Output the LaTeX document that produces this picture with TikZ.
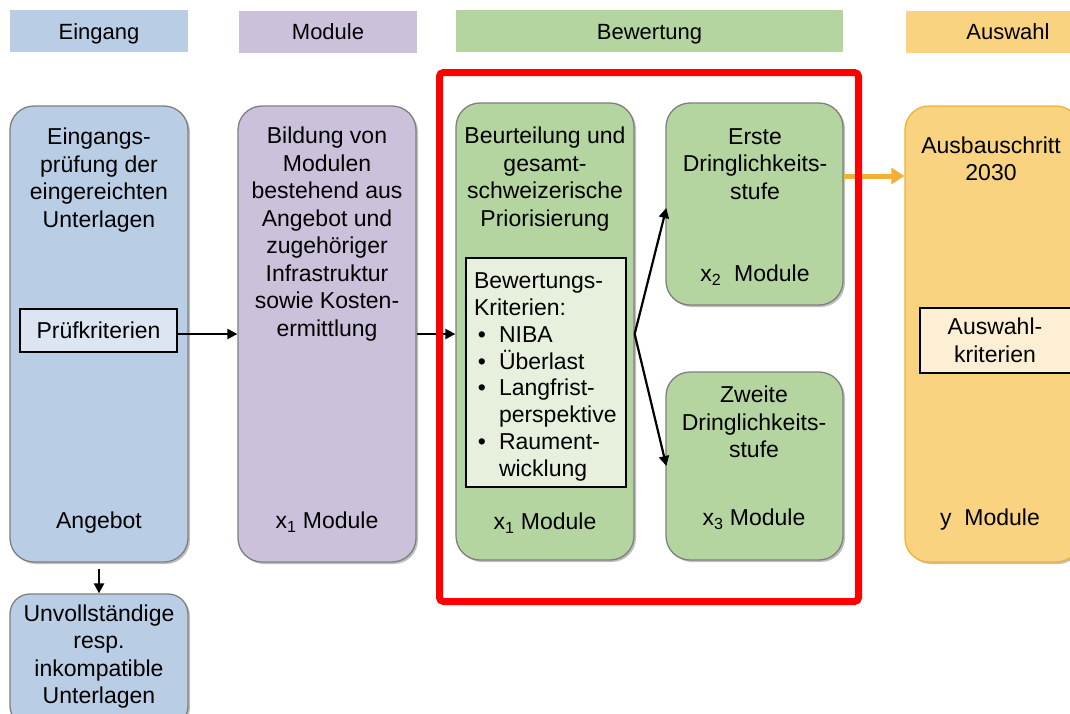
\documentclass[tikz,border=0pt]{standalone}
\usepackage{fontspec}
\setmainfont{Liberation Sans}
\usetikzlibrary{arrows.meta,calc,shadows}
\definecolor{cblue}{HTML}{B9CDE5}
\definecolor{cpurple}{HTML}{CCC1DA}
\definecolor{cgreen}{HTML}{B5D5A0}
\definecolor{corange}{HTML}{F9D37F}
\definecolor{corangeline}{HTML}{F2B134}
\definecolor{boxgray}{HTML}{7F7F7F}
\definecolor{lblue}{HTML}{DCE6F2}
\definecolor{lgreen}{HTML}{E6F0DC}
\definecolor{lorange}{HTML}{FDEFD3}
\begin{document}
\begin{tikzpicture}[x=1pt,y=-1pt,
  hdr/.style={fill=#1, inner sep=0pt, minimum height=42pt, text height=20pt, text depth=4pt, font=\fontsize{22}{26}\selectfont},
  bigbox/.style={draw=boxgray, line width=1.3pt, fill=#1, rounded corners=24pt, inner sep=0pt,
     drop shadow={shadow xshift=2pt, shadow yshift=-2pt, opacity=0.25, fill=black}},
  inbox/.style={draw=black, line width=1.2pt, fill=#1, inner sep=0pt},
  txt/.style={align=center, inner sep=0pt, font=\fontsize{23}{27.5}\selectfont},
  arr/.style={line width=2.2pt, -{Triangle[length=10pt,width=10pt]}},
  oarr/.style={line width=5pt, draw=corangeline, -{Triangle[length=13pt,width=16pt]}},
  redframe/.style={draw=red, line width=7pt, rounded corners=4pt, inner sep=0pt}]
\clip (0,0) rectangle (1070,713);
\fill[white] (0,0) rectangle (1070,713);

% headers
\node[hdr=cblue, minimum width=178pt] (h1) at (99,31) {Eingang};
\node[hdr=cpurple, minimum width=178pt] (h2) at (328,31.5) {Module};
\node[hdr=cgreen, minimum width=387pt] (h3) at (649.5,31) {Bewertung};
\node[hdr=corange, minimum width=204pt] (h4) at (1008,31.5) {Auswahl};

% main boxes
\node[bigbox=cblue, minimum width=178pt, minimum height=456pt] (ein) at (99,334) {};
\node[bigbox=cpurple, minimum width=178pt, minimum height=456pt] (mod) at (327,334) {};
\node[bigbox=cgreen, minimum width=178pt, minimum height=457pt] (beu) at (545,331.5) {};
\node[bigbox=cgreen, minimum width=177pt, minimum height=202pt] (erste) at (754.5,204) {};
\node[bigbox=cgreen, minimum width=177pt, minimum height=188pt] (zweite) at (754.5,466) {};
\node[bigbox=corange, draw=corangeline, minimum width=175pt, minimum height=456pt] (aus) at (992.5,334) {};
\node[bigbox=cblue, rounded corners=20pt, minimum width=178pt, minimum height=132pt] (unv) at (99,660) {};

% inner boxes
\node[inbox=lblue, minimum width=157pt, minimum height=43pt, font=\fontsize{23}{27.5}\selectfont] (pk) at (98.5,330.5) {Prüfkriterien};
\node[inbox=lgreen, minimum width=160pt, minimum height=229pt] (bk) at (546,372.5) {};
\node[inner sep=0pt, text width=152pt, align=left, font=\fontsize{23}{26.8}\selectfont] (bkT) at (550,377)
  {Bewertungs-\\Kriterien:\\
   \makebox[25pt][l]{\,\textbullet}NIBA\\
   \makebox[25pt][l]{\,\textbullet}Überlast\\
   \makebox[25pt][l]{\,\textbullet}Langfrist-\\
   \hspace*{25pt}perspektive\\
   \makebox[25pt][l]{\,\textbullet}Raument-\\
   \hspace*{25pt}wicklung};
\node[inbox=lorange, minimum width=154pt, minimum height=65pt] (ak) at (997,340.5) {};
\node[txt] (akT) at (995,340.5) {Auswahl-\\kriterien};

% texts
\node[txt] (einT) at (99,180) {Eingangs-\\prüfung der\\eingereichten\\Unterlagen};
\node[txt] (einB) at (99,523) {Angebot};
\node[txt] (modT) at (327,234) {Bildung von\\Modulen\\bestehend aus\\Angebot und\\zugehöriger\\Infrastruktur\\sowie Kosten-\\ermittlung};
\node[txt] (modB) at (327,522) {x\textsubscript{1} Module};
\node[txt] (beuT) at (545,179) {Beurteilung und\\gesamt-\\schweizerische\\Priorisierung};
\node[txt] (beuB) at (545,523) {x\textsubscript{1} Module};
\node[txt] (ersteT) at (755,164) {Erste\\Dringlichkeits-\\stufe};
\node[txt] (ersteB) at (755,275) {x\textsubscript{2}\ \ Module};
\node[txt] (zweiteT) at (754,422) {Zweite\\Dringlichkeits-\\stufe};
\node[txt] (zweiteB) at (754,519) {x\textsubscript{3} Module};
\node[txt] (ausT) at (991,159) {Ausbauschritt\\2030};
\node[txt] (ausB) at (990,520) {y\ \ Module};
\node[txt] (unvT) at (99,656.5) {Unvollständige\\resp.\\inkompatible\\Unterlagen};

% connectors
\coordinate (p1) at ($(pk.east)+(0,3.5)$);
\draw[arr] (p1) -- (p1 -| mod.west);
\coordinate (m1) at ($(mod.east)+(0,0)$);
\draw[arr] (m1) -- (m1 -| beu.west);
\coordinate (sp) at (beu.east |- m1);
\draw[arr] (sp) -- ($(erste.west)+(1,4)$);
\draw[arr] (sp) -- ($(zweite.west)+(1,0)$);
\draw[arr] ($(ein.south)+(0,6)$) -- (unv.north);
\coordinate (o1) at ($(erste.east)+(0,-28)$);
\draw[oarr] (o1) -- (o1 -| aus.west);

% red frame
\node[redframe, minimum width=419pt, minimum height=529pt] (rf) at (649,337) {};
\end{tikzpicture}
\end{document}
